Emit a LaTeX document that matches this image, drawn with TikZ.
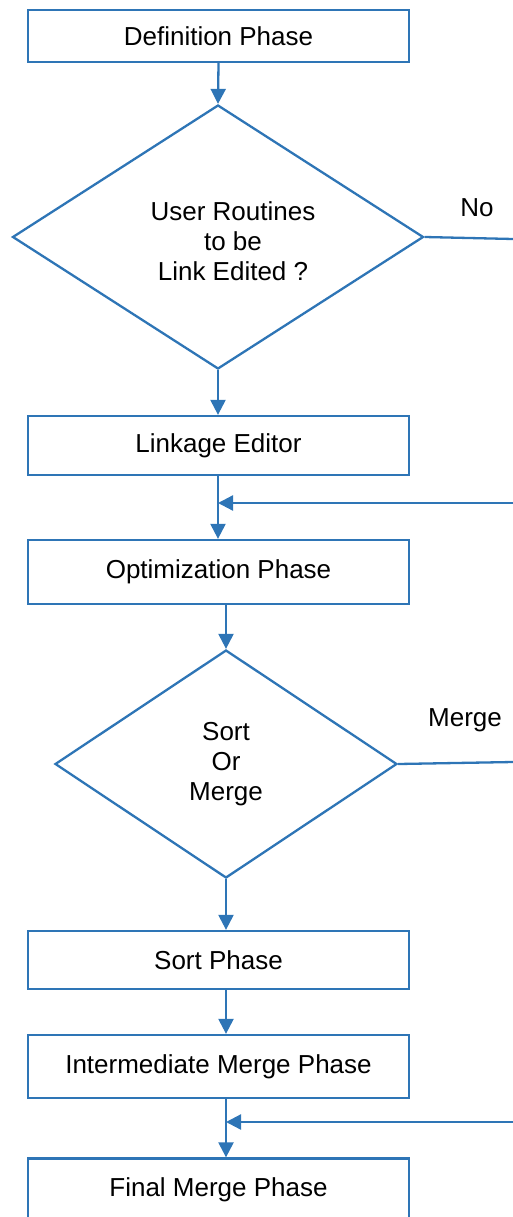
\documentclass[tikz,border=0pt]{standalone}
\usepackage{fontspec}
\setmainfont{Liberation Sans}
\usepackage{tikz}
\usetikzlibrary{arrows.meta, shapes.geometric}
\definecolor{bluoffice}{RGB}{46,117,182}

\begin{document}
\begin{tikzpicture}[x=1pt, y=-1pt,
    % stile dei blocchi rettangolari delle fasi
    blocco/.style={
        draw=bluoffice,
        rectangle,
        minimum width=381pt,
        line width=2.3pt,
        inner sep=0pt,
        font=\fontsize{26}{30}\selectfont
    },
    % stile dei rombi di decisione
    rombo/.style={
        draw=bluoffice,
        diamond,
        line width=2.3pt,
        inner sep=0pt,
        align=center,
        font=\fontsize{26}{30}\selectfont
    },
    % testo libero
    etichetta/.style={
        align=center,
        font=\fontsize{26}{30}\selectfont
    },
    % frecce con la punta triangolare piena
    freccia/.style={
        -{Triangle[length=15pt, width=15pt]},
        color=bluoffice,
        line width=2.3pt
    },
    linea/.style={
        color=bluoffice,
        line width=2.3pt
    }
]
    \useasboundingbox (0,0) rectangle (513,1217);

    % 1. Fase di definizione e prima decisione
    \node [blocco, minimum height=52pt] (defn) at (218.5,36) {Definition Phase};
    \node [rombo, minimum width=411pt, minimum height=264pt] (usrq) at (218,237) {};
    \node [etichetta] (usrqtxt) at (233,241) {User Routines\\to be\\Link Edited ?};
    \node [etichetta] (notxt) at (477,208) {No};
    \coordinate (noend) at (513,239);

    % 2. Linkage editor e ottimizzazione
    \node [blocco, minimum height=59pt] (linked) at (218.5,445.5) {Linkage Editor};
    \node [blocco, minimum height=64pt] (optim) at (218.5,572) {Optimization Phase};
    \coordinate (ritorno1) at (513,503);

    % 3. Seconda decisione
    \node [rombo, minimum width=342pt, minimum height=228pt] (sortq) at (226,764) {Sort\\Or\\Merge};
    \node [etichetta] (mergetxt) at (465,720) {Merge};
    \coordinate (mergeend) at (513,762);

    % 4. Fasi di sort e merge
    \node [blocco, minimum height=58pt] (sortph) at (218.5,960) {Sort Phase};
    \node [blocco, minimum height=63pt] (intmerge) at (218.5,1066.5) {Intermediate Merge Phase};
    \node [blocco, minimum height=63pt] (finmerge) at (218.5,1190) {Final Merge Phase};
    \coordinate (ritorno2) at (513,1122);

    % 5. Collegamenti
    \draw [freccia] (defn.south) -- (usrq.north);
    \draw [linea] (usrq.east) -- (noend);
    \draw [freccia] (usrq.south) -- (linked.north -| usrq.south);
    \draw [freccia] (linked.south -| usrq.south) -- (optim.north -| usrq.south);
    \draw [freccia] (ritorno1) -- (ritorno1 -| usrq.south);
    \draw [freccia] (optim.south -| sortq.north) -- (sortq.north);
    \draw [linea] (sortq.east) -- (mergeend);
    \draw [freccia] (sortq.south) -- (sortph.north -| sortq.south);
    \draw [freccia] (sortph.south -| sortq.south) -- (intmerge.north -| sortq.south);
    \draw [freccia] (intmerge.south -| sortq.south) -- (finmerge.north -| sortq.south);
    \draw [freccia] (ritorno2) -- (ritorno2 -| sortq.south);

\end{tikzpicture}
\end{document}
